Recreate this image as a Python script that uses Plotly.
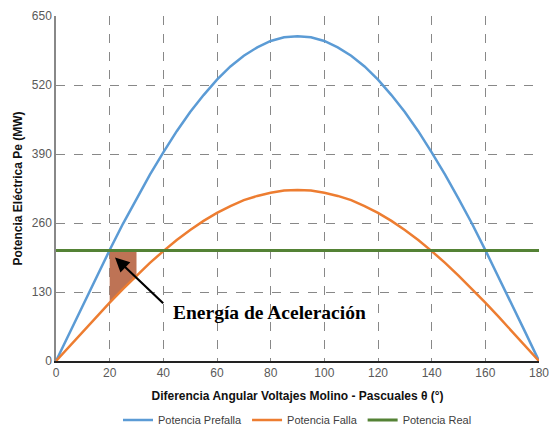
import plotly.graph_objects as go

theta = [0, 5, 10, 15, 20, 25, 30, 35, 40, 45, 50, 55, 60, 65, 70, 75, 80, 85, 90,
         95, 100, 105, 110, 115, 120, 125, 130, 135, 140, 145, 150, 155, 160, 165, 170, 175, 180]
p_prefalla = [0, 53, 106, 158, 209, 259, 306, 351, 393, 433, 469, 501, 530, 555, 575, 591, 603, 610, 612,
              610, 603, 591, 575, 555, 530, 501, 469, 433, 393, 351, 306, 259, 209, 158, 106, 53, 0]
p_falla = [0, 28, 56, 83, 110, 136, 161, 185, 207, 228, 247, 264, 279, 292, 303, 311, 317, 321, 322,
           321, 317, 311, 303, 292, 279, 264, 247, 228, 207, 185, 161, 136, 110, 83, 56, 28, 0]
p_real = [208] * len(theta)

x_ticks = [0, 20, 40, 60, 80, 100, 120, 140, 160, 180]
y_ticks = [0, 130, 260, 390, 520, 650]

# shaded acceleration area (from 20° to 30°), between real power and fault curve
i0, i1 = theta.index(20), theta.index(30)
shade_x = [theta[i0], theta[i1]] + theta[i0:i1 + 1][::-1] + [theta[i0]]
shade_y = [p_real[i0], p_real[i1]] + p_falla[i0:i1 + 1][::-1] + [p_real[i0]]

fig = go.Figure()
fig.add_trace(go.Scatter(x=shade_x, y=shade_y, fill="toself", fillcolor="#be7355",
                         line=dict(width=0), mode="lines", showlegend=False, hoverinfo="skip"))
fig.add_trace(go.Scatter(x=theta, y=p_prefalla, mode="lines", name="Potencia Prefalla",
                         line=dict(color="#5b9bd5", width=2.5)))
fig.add_trace(go.Scatter(x=theta, y=p_falla, mode="lines", name="Potencia Falla",
                         line=dict(color="#ed7d31", width=2.5)))
fig.add_trace(go.Scatter(x=theta, y=p_real, mode="lines", name="Potencia Real",
                         line=dict(color="#548235", width=3)))

fig.add_annotation(x=22, y=195, ax=40.5, ay=106, xref="x", yref="y", axref="x", ayref="y",
                   showarrow=True, arrowhead=2, arrowsize=1.3, arrowwidth=2.2, arrowcolor="black", text="")
fig.add_annotation(x=43, y=92, xref="x", yref="y", xanchor="left", yanchor="middle",
                   text="<b>Energía de Aceleración</b>", showarrow=False,
                   font=dict(family="Liberation Serif, Times New Roman, serif", size=19.5, color="black"))

tick_font = dict(family="Liberation Sans, Arial, sans-serif", size=12, color="#595959")
title_font = dict(family="Liberation Sans, Arial, sans-serif", size=12, color="#111111")
fig.update_layout(
    width=553, height=430,
    margin=dict(l=56, r=14, t=16, b=69, autoexpand=False),
    paper_bgcolor="white", plot_bgcolor="white",
    font=tick_font,
    showlegend=True,
    legend=dict(orientation="h", x=0.5, xanchor="center", y=-0.171, yanchor="middle",
                font=dict(family="Liberation Sans, Arial, sans-serif", size=11, color="#404040"),
                itemwidth=30, tracegroupgap=0),
)
fig.update_xaxes(range=[0, 180], tickvals=x_ticks, ticktext=[str(v) for v in x_ticks],
                 tickfont=tick_font, ticklabeloverflow="allow", automargin=False,
                 showgrid=True, gridcolor="#888888", griddash="dash", gridwidth=1,
                 showline=True, linecolor="#222222", linewidth=1.5, zeroline=False,
                 ticks="",
                 title=dict(text="<b>Diferencia Angular Voltajes Molino - Pascuales θ (°)</b>",
                            font=title_font, standoff=12))
fig.update_yaxes(range=[0, 650], tickvals=y_ticks, ticktext=[str(v) for v in y_ticks],
                 tickfont=tick_font, ticklabeloverflow="allow", automargin=False,
                 showgrid=True, gridcolor="#888888", griddash="dash", gridwidth=1,
                 showline=True, linecolor="#888888", linewidth=1.5, zeroline=False,
                 ticks="",
                 title=dict(text="<b>Potencia Eléctrica Pe (MW)</b>",
                            font=title_font, standoff=7))

# remove the default page margin so the 553x430 figure fills the window exactly
fig.write_html("out.html", config={"displayModeBar": False},
               post_script="document.body.style.margin='0';document.body.style.overflow='hidden';")
